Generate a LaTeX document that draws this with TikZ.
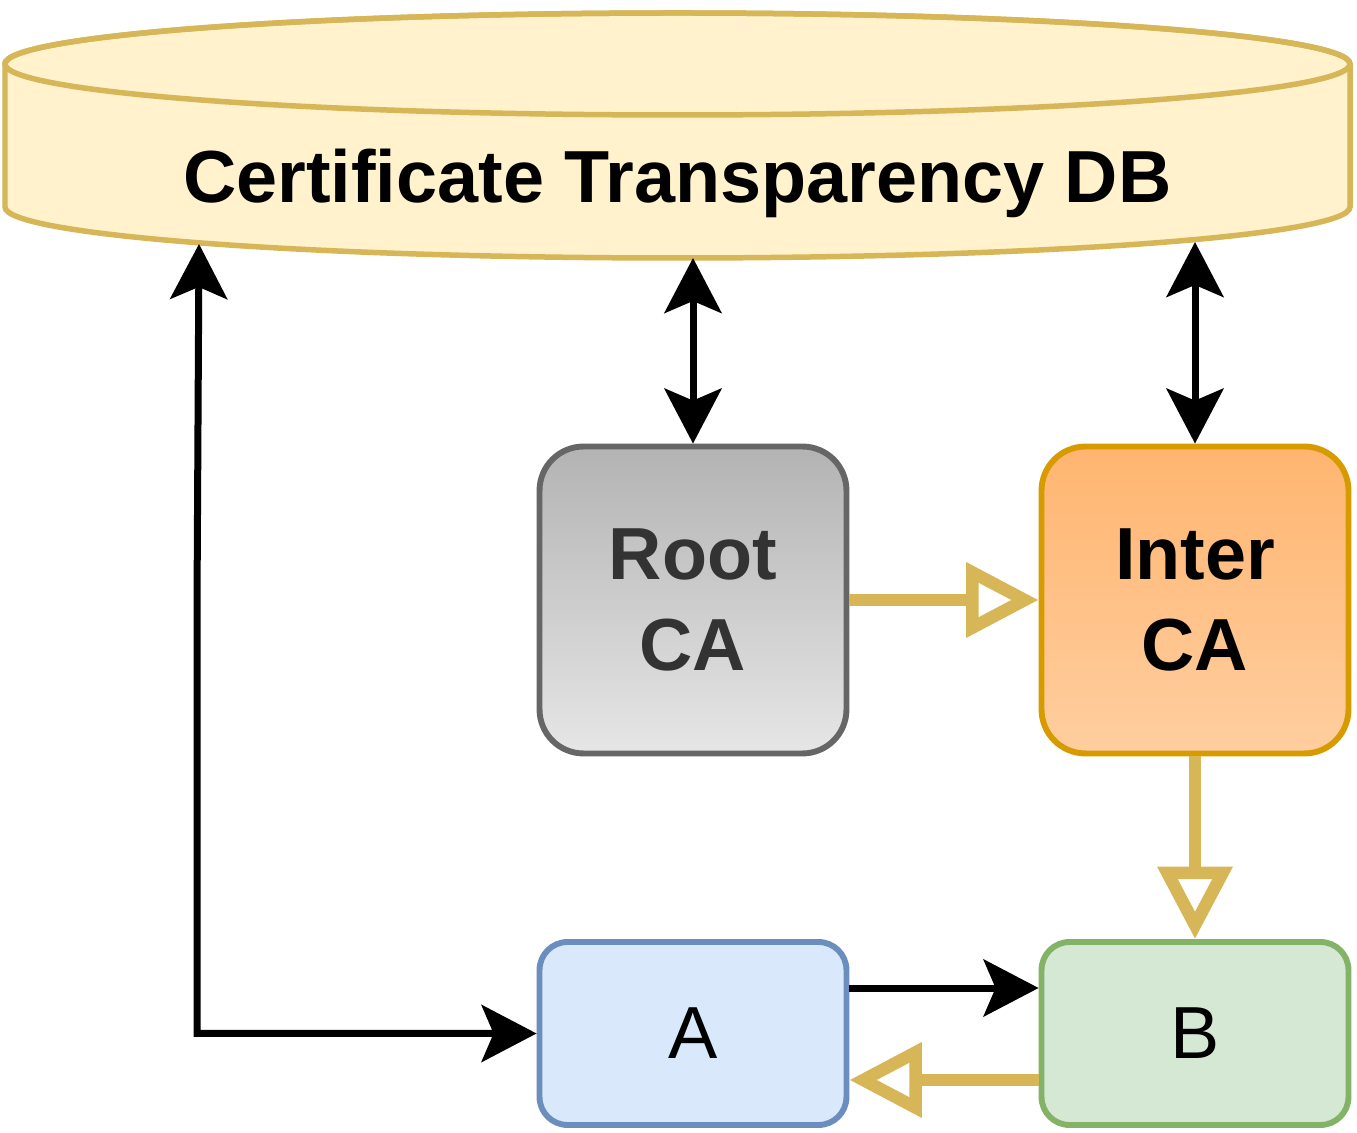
\documentclass[tikz,border=0pt]{standalone}
\usepackage{fontspec}
\setmainfont{Liberation Sans}
\usepackage{tikz}
\usetikzlibrary{arrows.meta}
\definecolor{dbfill}{HTML}{FFF2CC}
\definecolor{dbdraw}{HTML}{D6B656}
\definecolor{rootdraw}{HTML}{666666}
\definecolor{roottop}{HTML}{B3B3B3}
\definecolor{rootbot}{HTML}{E6E6E6}
\definecolor{rootfont}{HTML}{333333}
\definecolor{interdraw}{HTML}{D79B00}
\definecolor{intertop}{HTML}{FFB570}
\definecolor{interbot}{HTML}{FFCE9F}
\definecolor{afill}{HTML}{DAE8FC}
\definecolor{adraw}{HTML}{6C8EBF}
\definecolor{bfill}{HTML}{D5E8D4}
\definecolor{bdraw}{HTML}{82B366}

\begin{document}
\begin{tikzpicture}[x=0.02cm, y=0.02cm,
    >={Stealth[length=1.1cm, width=1.14cm, inset=0.24cm]},
    ca/.style={draw, rounded corners=0.88cm, line width=0.118cm, minimum width=6.14cm, minimum height=6.14cm, align=center, font=\fontsize{42}{52}\selectfont\bfseries},
    peer/.style={draw, rounded corners=0.56cm, line width=0.118cm, minimum width=6.14cm, minimum height=3.66cm, font=\fontsize{42}{52}\selectfont},
    link/.style={line width=0.14cm},
    issue/.style={draw=dbdraw, line width=0.25cm, -{Triangle[open, length=1.45cm, width=1.45cm, line width=0.25cm]}}]
        \useasboundingbox (0,0) rectangle (1357,1133);
        \filldraw[fill=dbfill, draw=dbdraw, line width=0.11cm] (5,1069) -- (5,926) arc[start angle=180, end angle=360, x radius=672.5, y radius=51] -- (1350,1069) arc[start angle=0, end angle=180, x radius=672.5, y radius=51] -- cycle;
        \draw[dbdraw, line width=0.11cm] (677.5,1069) ellipse [x radius=672.5, y radius=51];
        \node[anchor=base, font=\fontsize{42}{52}\selectfont\bfseries] (db) at (677.5,930) {Certificate Transparency DB};
        \coordinate (dbleft) at (199,889);
        \coordinate (dbroot) at (693,875);
        \coordinate (dbinter) at (1195,891);

        \node[ca, draw=rootdraw, top color=roottop, bottom color=rootbot, text=rootfont] (root) at (693,533) {Root\\CA};
        \node[ca, draw=interdraw, top color=intertop, bottom color=interbot] (inter) at (1195,533) {Inter\\CA};
        \node[peer, draw=adraw, fill=afill] (a) at (693,99.5) {A};
        \node[peer, draw=bdraw, fill=bfill] (b) at (1195,99.5) {B};

        \draw[link, <->] (dbroot) -- (root.north);
        \draw[link, <->] (dbinter) -- (inter.north);
        \draw[link, <->] (dbleft) -- (197,528) |- (a.west);
        \draw[link, ->] ([yshift=0.91cm]a.east) -- ([yshift=0.91cm]b.west);
        \draw[issue] (root.east) -- (inter.west);
        \draw[issue] (inter.south) -- (b.north);
        \draw[issue] ([yshift=-0.93cm]b.west) -- ([yshift=-0.93cm]a.east);
\end{tikzpicture}
\end{document}
